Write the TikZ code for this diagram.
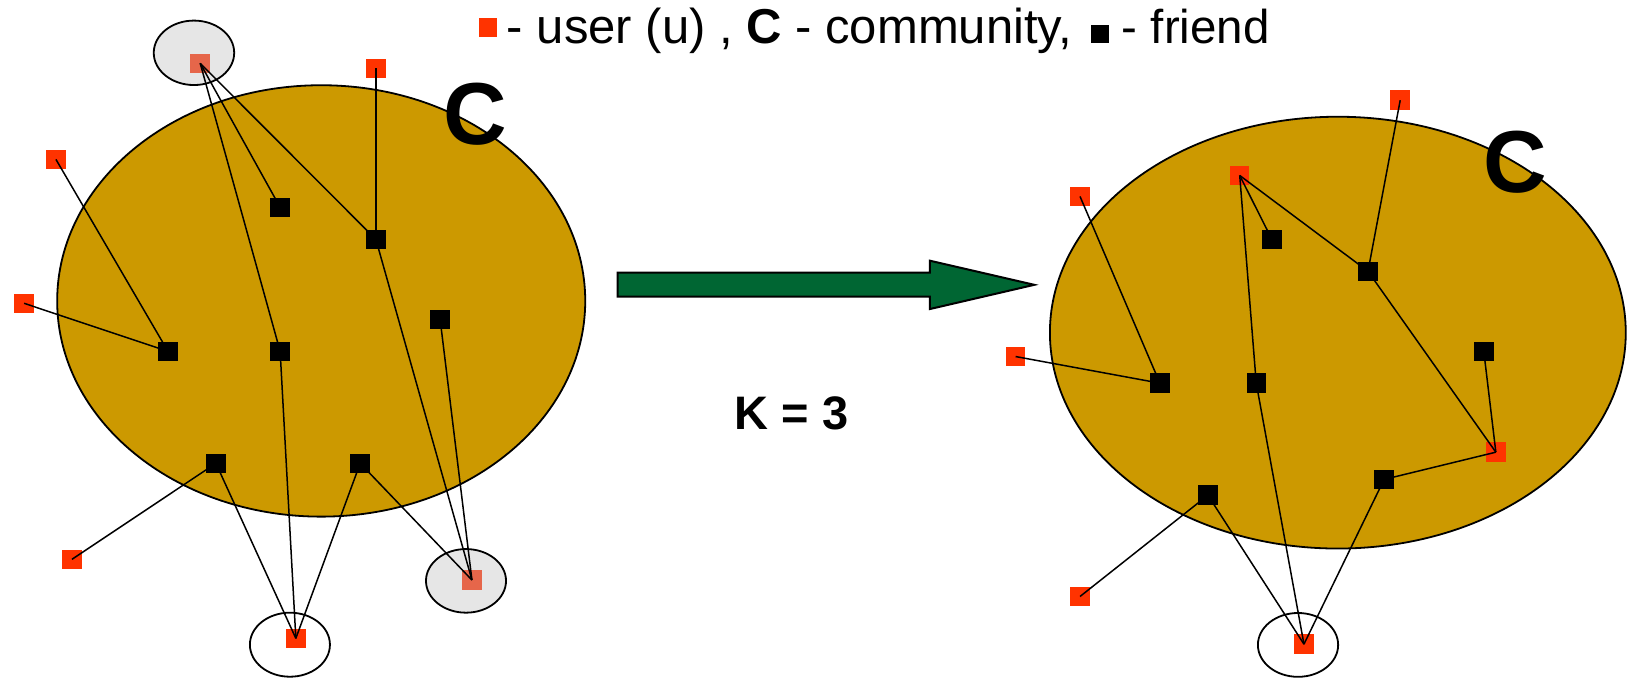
\documentclass[tikz,border=0pt]{standalone}
\usepackage{fontspec}
\setmainfont{Liberation Sans}
\definecolor{commfill}{RGB}{204,153,0}
\definecolor{usrred}{RGB}{255,51,0}
\definecolor{palered}{RGB}{230,102,74}
\definecolor{halogrey}{RGB}{230,230,230}
\definecolor{arrowgreen}{RGB}{0,102,51}
\begin{document}
\begin{tikzpicture}[x=1.0395pt,y=-1.0395pt,
  usrsq/.style={fill=usrred,draw=none,minimum size=19.5pt,inner sep=0pt,outer sep=0pt},
  palesq/.style={fill=palered,draw=none,minimum size=19.5pt,inner sep=0pt,outer sep=0pt},
  frsq/.style={fill=black,draw=none,minimum size=19.5pt,inner sep=0pt,outer sep=0pt},
  link/.style={line width=1.5pt,black},
  community/.style={fill=commfill,draw=black,line width=1.8pt},
  halo/.style={fill=halogrey,draw=black,line width=1.8pt},
  ring/.style={fill=white,draw=black,line width=1.8pt},
  bigc/.style={inner sep=0pt,font=\fontsize{88}{90}\selectfont\bfseries},
  legtext/.style={inner sep=0pt,anchor=base west}]
\useasboundingbox (0,0) rectangle (1568.06,652.24);

% legend
\node[usrsq,minimum size=18.5pt] (legu) at (469.5,26.3) {};
\node[legtext,font=\fontsize{49}{58}\selectfont] (legt1) at (487.5,42.3) {- user (u) , \textbf{C} - community,};
\node[frsq,minimum size=18pt] (legf) at (1058,32.5) {};
\node[legtext,font=\fontsize{47.5}{56}\selectfont] (legt2) at (1079,42.3) {- friend};

% left community
\draw[community] (309,289.5) ellipse [x radius=254, y radius=207.5];
\node[bigc] (cl) at (457,110) {C};
\draw[halo] (186.6,50.8) ellipse [x radius=38.7, y radius=31];
\draw[halo] (448.3,558.8) ellipse [x radius=38.5, y radius=30.6];
\draw[ring] (278.9,620.2) ellipse [x radius=38.5, y radius=30.8];

\node[palesq] (u1) at (192.6,60.9) {};
\node[usrsq] (u2) at (361.6,65.7) {};
\node[usrsq] (u3) at (53.8,153.3) {};
\node[usrsq] (u4) at (23.2,291.8) {};
\node[usrsq] (u5) at (69.2,538.1) {};
\node[usrsq] (u6) at (284.6,614.1) {};
\node[palesq] (u7) at (454,558) {};
\node[frsq] (f1) at (269.5,199.5) {};
\node[frsq] (f2) at (361.6,230.3) {};
\node[frsq] (f3) at (423.4,307.2) {};
\node[frsq] (f4) at (161.6,338) {};
\node[frsq] (f5) at (269.5,338) {};
\node[frsq] (f6) at (207.7,445.7) {};
\node[frsq] (f7) at (346.5,445.7) {};

\draw[link] (u1.center) -- (f1.center);
\draw[link] (u1.center) -- (f5.center);
\draw[link] (u1.center) -- (f2.center);
\draw[link] (u2.center) -- (f2.center);
\draw[link] (u3.center) -- (f4.center);
\draw[link] (u4.center) -- (f4.center);
\draw[link] (f2.center) -- (u7.center);
\draw[link] (f3.center) -- (u7.center);
\draw[link] (f5.center) -- (u6.center);
\draw[link] (f6.center) -- (u6.center);
\draw[link] (f7.center) -- (u6.center);
\draw[link] (f7.center) -- (u7.center);
\draw[link] (f6.center) -- (u5.center);

% arrow
\draw[fill=arrowgreen,line width=2pt,line join=miter] (594.2,262.3) -- (894.6,262.3) -- (894.6,250.8) -- (995,274) -- (894.6,297.3) -- (894.6,285.4) -- (594.2,285.4) -- cycle;
\node[inner sep=0pt,font=\fontsize{47}{56}\selectfont\bfseries] (k) at (761.6,397.3) {K = 3};

% right community
\draw[community] (1287,320) ellipse [x radius=277, y radius=207.7];
\node[bigc] (cr) at (1458,156) {C};
\draw[ring] (1248.7,620.4) ellipse [x radius=38.6, y radius=30.7];

\node[usrsq] (r1) at (1347,96.4) {};
\node[usrsq] (r2) at (1192.6,168.8) {};
\node[usrsq] (r3) at (1039,189) {};
\node[usrsq] (r4) at (977,343) {};
\node[usrsq] (r5) at (1439,435) {};
\node[usrsq] (r6) at (1039,573.8) {};
\node[usrsq] (r7) at (1254.4,619.7) {};
\node[frsq] (b1) at (1223.5,230.2) {};
\node[frsq] (b2) at (1316,261) {};
\node[frsq] (b3) at (1427.4,338) {};
\node[frsq] (b4) at (1115.8,368.6) {};
\node[frsq] (b5) at (1208.5,368.6) {};
\node[frsq] (b6) at (1162,476.4) {};
\node[frsq] (b7) at (1331.5,461.2) {};

\draw[link] (r1.center) -- (b2.center);
\draw[link] (r2.center) -- (b1.center);
\draw[link] (r2.center) -- (b2.center);
\draw[link] (r2.center) -- (b5.center);
\draw[link] (r3.center) -- (b4.center);
\draw[link] (r4.center) -- (b4.center);
\draw[link] (b2.center) -- (r5.center);
\draw[link] (b3.center) -- (r5.center);
\draw[link] (b7.center) -- (r5.center);
\draw[link] (b5.center) -- (r7.center);
\draw[link] (b6.center) -- (r7.center);
\draw[link] (b7.center) -- (r7.center);
\draw[link] (b6.center) -- (r6.center);
\end{tikzpicture}
\end{document}
